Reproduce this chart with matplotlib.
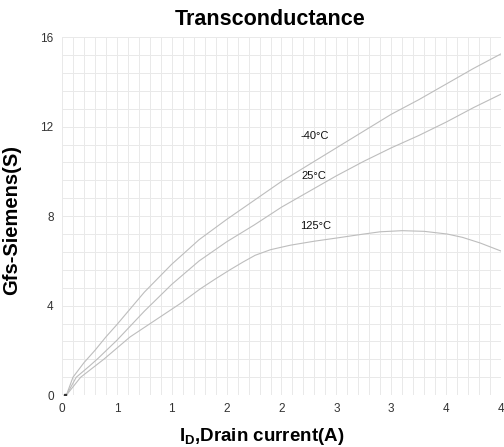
import matplotlib
matplotlib.use('Agg')
import matplotlib.pyplot as plt
import numpy as np

plt.rcParams['font.family'] = ['Liberation Sans', 'DejaVu Sans']

# drain current (A) and transconductance (S) per temperature
x_m40 = [0.04, 0.10, 0.20, 0.30, 0.40, 0.50, 0.75, 1.00, 1.25, 1.50, 1.75, 2.00,
         2.25, 2.50, 2.75, 3.00, 3.25, 3.50, 3.75, 4.00]
y_m40 = [0.0, 0.8, 1.45, 2.0, 2.6, 3.15, 4.6, 5.85, 6.95, 7.85, 8.7, 9.55,
         10.3, 11.05, 11.8, 12.55, 13.2, 13.9, 14.6, 15.25]

x_25 = [0.04, 0.13, 0.25, 0.33, 0.50, 0.75, 1.00, 1.25, 1.50, 1.75, 2.00,
        2.25, 2.50, 2.75, 3.00, 3.25, 3.50, 3.75, 4.00]
y_25 = [0.0, 0.8, 1.3, 1.65, 2.45, 3.75, 4.95, 6.0, 6.85, 7.6, 8.4,
        9.1, 9.8, 10.45, 11.05, 11.6, 12.2, 12.85, 13.45]

x_125 = [0.04, 0.17, 0.38, 0.62, 0.85, 1.08, 1.26, 1.40, 1.53, 1.65, 1.76, 1.90,
         2.08, 2.30, 2.50, 2.75, 2.90, 3.10, 3.30, 3.51, 3.65, 3.81, 4.00]
y_125 = [0.0, 0.8, 1.6, 2.6, 3.35, 4.1, 4.75, 5.2, 5.6, 5.95, 6.25, 6.5,
         6.7, 6.88, 7.02, 7.2, 7.3, 7.35, 7.32, 7.2, 7.05, 6.8, 6.44]

labels = ['-40°C', '25°C', '125°C']
label_x = [2.17, 2.18, 2.17]
label_y = [11.57, 9.8, 7.55]

xtick_pos = [0, 0.5, 1, 1.5, 2, 2.5, 3, 3.5, 4]
xtick_lab = ['0', '1', '1', '2', '2', '3', '3', '4', '4']
ytick_pos = [0, 4, 8, 12, 16]

fig = plt.figure(figsize=(5.04, 4.47), dpi=100)
ax = fig.add_axes([0.123, 0.116, 0.871, 0.801])

# background grid
for gx in np.arange(0, 4.0001, 0.1):
    ax.axvline(gx, color='#e9e9e9', lw=0.7, zorder=0)
for gy in np.arange(0, 16.0001, 0.8):
    ax.axhline(gy, color='#e9e9e9', lw=0.7, zorder=0)

for xs, ys in [(x_m40, y_m40), (x_25, y_25), (x_125, y_125)]:
    ax.plot(xs, ys, color='#bdbdbd', lw=0.8, zorder=2)
ax.plot([0.03], [0.0], marker='s', ms=2, color='#333333', zorder=3)

for t, tx, ty in zip(labels, label_x, label_y):
    ax.text(tx, ty, t, fontsize=8, color='#111111', ha='left', va='center')

ax.set_xlim(0, 4)
ax.set_ylim(0, 16)
ax.set_xticks(xtick_pos)
ax.set_xticklabels(xtick_lab)
ax.set_yticks(ytick_pos)
ax.tick_params(length=0, labelsize=8.5, labelcolor='#333333', pad=6)
for s in ax.spines.values():
    s.set_visible(False)

ax.set_title('Transconductance', fontsize=15.5, fontweight='bold', pad=9, x=0.474)
ax.set_ylabel('Gfs-Siemens(S)', fontsize=14.5, fontweight='bold')
ax.yaxis.set_label_coords(-0.093, 0.49)
ax.set_xlabel('I$_\\mathregular{D}$,Drain current(A)', fontsize=13.5, fontweight='bold')
ax.xaxis.set_label_coords(0.456, -0.085)

fig.savefig('out.png', dpi=100)
